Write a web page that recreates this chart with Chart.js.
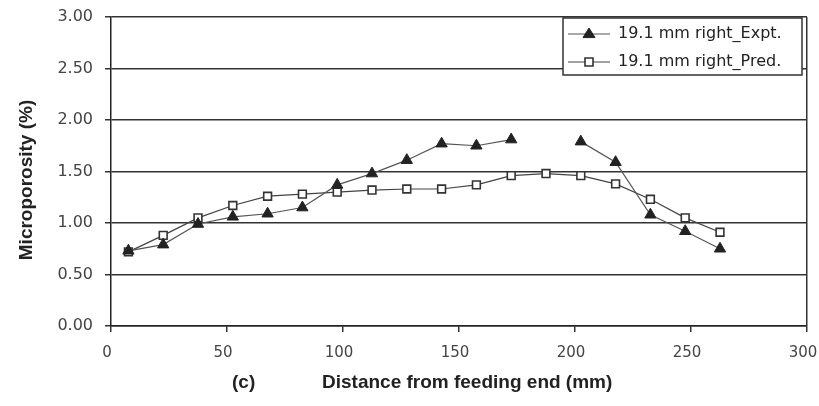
<!DOCTYPE html>
<html>
<head>
<meta charset="utf-8">
<script src="https://cdn.jsdelivr.net/npm/chart.js@4"></script>
<style>
  html, body { margin: 0; padding: 0; background: #fff; }
</style>
</head>
<body>
<canvas id="poreChart" width="819" height="406"></canvas>
<script>
// distancia desde el extremo de alimentación (mm)
const distance = [7.5, 22.5, 37.5, 52.5, 67.5, 82.5, 97.5, 112.5, 127.5, 142.5, 157.5, 172.5, 187.5, 202.5, 217.5, 232.5, 247.5, 262.5];
// microporosidad (%)
const expt = [0.73, 0.79, 0.99, 1.06, 1.09, 1.15, 1.37, 1.48, 1.61, 1.77, 1.75, 1.81, null, 1.79, 1.59, 1.08, 0.92, 0.75];
const pred = [0.72, 0.88, 1.05, 1.17, 1.26, 1.28, 1.30, 1.32, 1.33, 1.33, 1.37, 1.46, 1.48, 1.46, 1.38, 1.23, 1.05, 0.91];
const seriesNames = ['19.1 mm right_Expt.', '19.1 mm right_Pred.'];
const xTitle = 'Distance from feeding end (mm)';
const yTitle = 'Microporosity (%)';

const toPoints = vals => distance.map((d, i) => ({ x: d, y: vals[i] }));

// leyenda y títulos dibujados a mano
const extras = {
  id: 'extras',
  afterDraw(chart) {
    const ctx = chart.ctx;
    const area = chart.chartArea;
    ctx.save();

    // leyenda dentro del área
    const bx = area.right - 244, by = area.top + 1, bw = 239, bh = 57;
    ctx.fillStyle = '#fff';
    ctx.fillRect(bx, by, bw, bh);
    ctx.strokeStyle = '#333';
    ctx.lineWidth = 1.5;
    ctx.strokeRect(bx, by, bw, bh);
    ctx.font = '16px "DejaVu Sans"';
    ctx.textBaseline = 'middle';
    chart.data.datasets.forEach((ds, i) => {
      const cy = by + 16 + i * 28;
      ctx.strokeStyle = ds.borderColor;
      ctx.lineWidth = 1.2;
      ctx.beginPath();
      ctx.moveTo(bx + 5, cy);
      ctx.lineTo(bx + 47, cy);
      ctx.stroke();
      ctx.fillStyle = ds.pointBackgroundColor;
      ctx.strokeStyle = ds.pointBorderColor;
      ctx.lineWidth = ds.pointBorderWidth;
      ctx.beginPath();
      if (ds.pointStyle === 'triangle') {
        const r = 6;
        ctx.moveTo(bx + 26, cy - r);
        ctx.lineTo(bx + 26 + r, cy + r * 0.6);
        ctx.lineTo(bx + 26 - r, cy + r * 0.6);
        ctx.closePath();
      } else {
        ctx.rect(bx + 22, cy - 4, 8, 8);
      }
      ctx.fill();
      ctx.stroke();
      ctx.fillStyle = '#222';
      ctx.textAlign = 'left';
      ctx.fillText(ds.label, bx + 55, cy);
    });

    // títulos de ejes
    ctx.fillStyle = '#222';
    ctx.font = 'bold 19px "Liberation Sans"';
    ctx.textAlign = 'left';
    ctx.textBaseline = 'middle';
    ctx.fillText('(c)', 232, 383);
    ctx.fillText(xTitle, 322, 383);
    ctx.translate(27, 180);
    ctx.rotate(-Math.PI / 2);
    ctx.textAlign = 'center';
    ctx.fillText(yTitle, 0, 0);
    ctx.restore();
  }
};

const ctx = document.getElementById('poreChart').getContext('2d');
new Chart(ctx, {
  type: 'line',
  data: {
    datasets: [{
      label: seriesNames[0],
      data: toPoints(expt),
      borderColor: '#555',
      borderWidth: 1.2,
      pointStyle: 'triangle',
      pointRadius: 6.5,
      pointBackgroundColor: '#222',
      pointBorderColor: '#222',
      pointBorderWidth: 1,
      spanGaps: false,
      tension: 0
    }, {
      label: seriesNames[1],
      data: toPoints(pred),
      borderColor: '#444',
      borderWidth: 1.2,
      pointStyle: 'rect',
      pointRadius: 5.5,
      pointBackgroundColor: '#fff',
      pointBorderColor: '#333',
      pointBorderWidth: 1.6,
      tension: 0
    }]
  },
  options: {
    responsive: false,
    animation: false,
    layout: { padding: { left: 0, top: 17, right: 12, bottom: 0 } },
    plugins: {
      legend: { display: false },
      tooltip: { enabled: false }
    },
    scales: {
      x: {
        type: 'linear',
        min: 0,
        max: 300,
        afterFit: s => { s.height = 80; s.paddingLeft = 0; s.paddingRight = 0; },
        ticks: {
          stepSize: 50,
          padding: 12,
          labelOffset: -4,
          color: '#444',
          font: { family: 'DejaVu Sans', size: 15 }
        },
        grid: {
          color: c => (c.tick && c.tick.value === 300) ? '#333' : 'rgba(0,0,0,0)',
          tickColor: '#333',
          tickLength: 6,
          lineWidth: 1.5
        },
        border: { color: '#222', width: 1.5 }
      },
      y: {
        min: 0,
        max: 3,
        afterFit: s => { s.width = 111; s.paddingTop = 0; s.paddingBottom = 0; },
        ticks: {
          stepSize: 0.5,
          padding: 12,
          color: '#444',
          font: { family: 'DejaVu Sans', size: 16 },
          callback: v => v.toFixed(2)
        },
        grid: {
          color: '#333',
          tickColor: '#333',
          tickLength: 6,
          lineWidth: 1.5
        },
        border: { color: '#222', width: 1.5 }
      }
    }
  },
  plugins: [extras]
});
</script>
</body>
</html>
